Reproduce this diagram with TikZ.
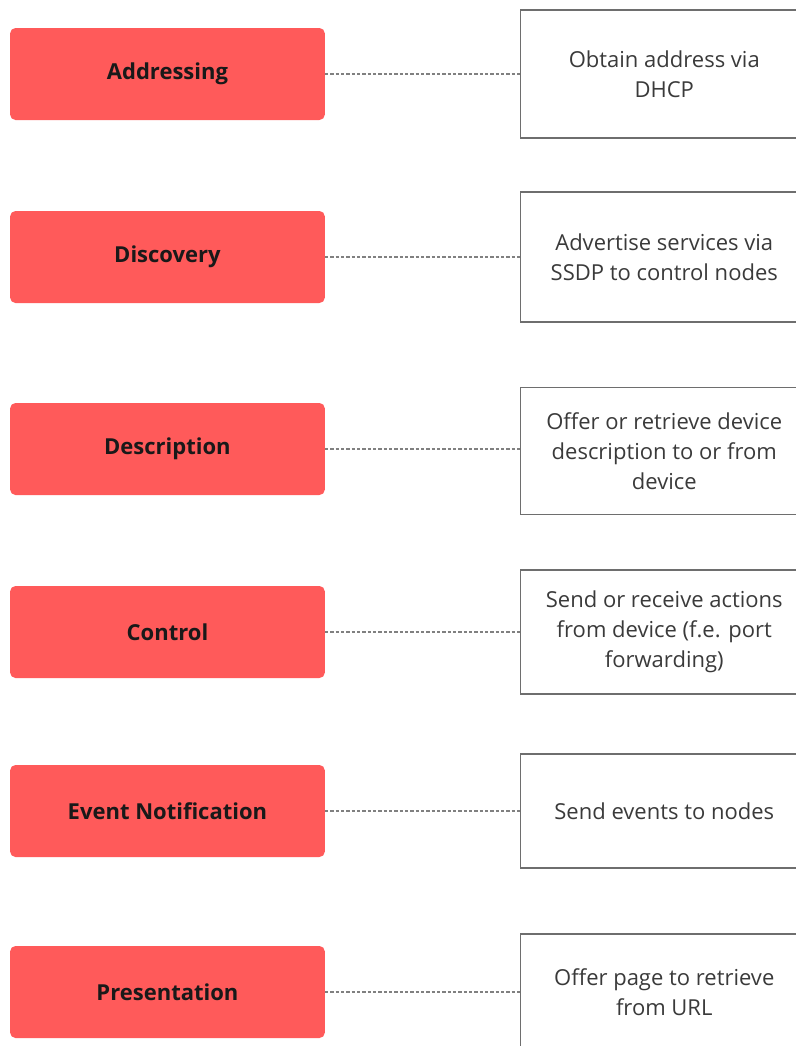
\documentclass[tikz,border=0pt]{standalone}
\usepackage{fontspec}
\setmainfont{Open Sans}
\usetikzlibrary{positioning}
\definecolor{layerred}{HTML}{FF5A5A}
\definecolor{boxline}{HTML}{6E6E6E}
\definecolor{darktext}{HTML}{3A3A3A}

\begin{document}
\begin{tikzpicture}[
        layer/.style = {fill=layerred, rounded corners=4pt, minimum width=236pt, minimum height=69pt, font=\fontsize{16.5}{22.5}\selectfont\bfseries, text=black!90},
        task/.style = {draw=boxline, line width=0.8pt, minimum width=216pt, align=center, font=\fontsize{16.5}{22.5}\selectfont, text=darktext},
        link/.style = {draw=gray, line width=0.8pt, dash pattern=on 2.4pt off 1.6pt}
    ]
        \useasboundingbox (0,0) rectangle (597pt,-784.5pt);
        \clip (0,0) rectangle (597pt,-784.5pt);

        \node[layer] (addr) at (125.6pt,-55.5pt) {Addressing};
        \node[layer] (disc) at (125.6pt,-192.75pt) {Discovery};
        \node[layer] (desc) at (125.6pt,-336.75pt) {Description};
        \node[layer] (ctrl) at (125.6pt,-474pt) {Control};
        \node[layer] (event) at (125.6pt,-608.25pt) {Event Notification};
        \node[layer] (pres) at (125.6pt,-744pt) {Presentation};

        \node[task, minimum height=96pt, right=146pt of addr] (addrtask) {Obtain address via \\ DHCP};
        \node[task, minimum height=97.5pt, right=146pt of disc] (disctask) {Advertise services via \\ SSDP to control nodes};
        \node[task, minimum height=95.25pt, right=146pt of desc, yshift=-1.5pt] (desctask) {Offer or retrieve device \\ description to or from \\ device};
        \node[task, minimum height=93pt, right=146pt of ctrl] (ctrltask) {Send or receive actions \\ from device (f.e. port \\ forwarding)};
        \node[task, minimum height=85.5pt, right=146pt of event] (eventtask) {Send events to nodes};
        \node[task, minimum height=87pt, right=146pt of pres] (prestask) {Offer page to retrieve \\ from URL};

        \draw[link] (addr) -- (addrtask);
        \draw[link] (disc) -- (disctask);
        \draw[link] (desc.east) -- (desc.east -| desctask.west);
        \draw[link] (ctrl) -- (ctrltask);
        \draw[link] (event) -- (eventtask);
        \draw[link] (pres) -- (prestask);
    \end{tikzpicture}
\end{document}
